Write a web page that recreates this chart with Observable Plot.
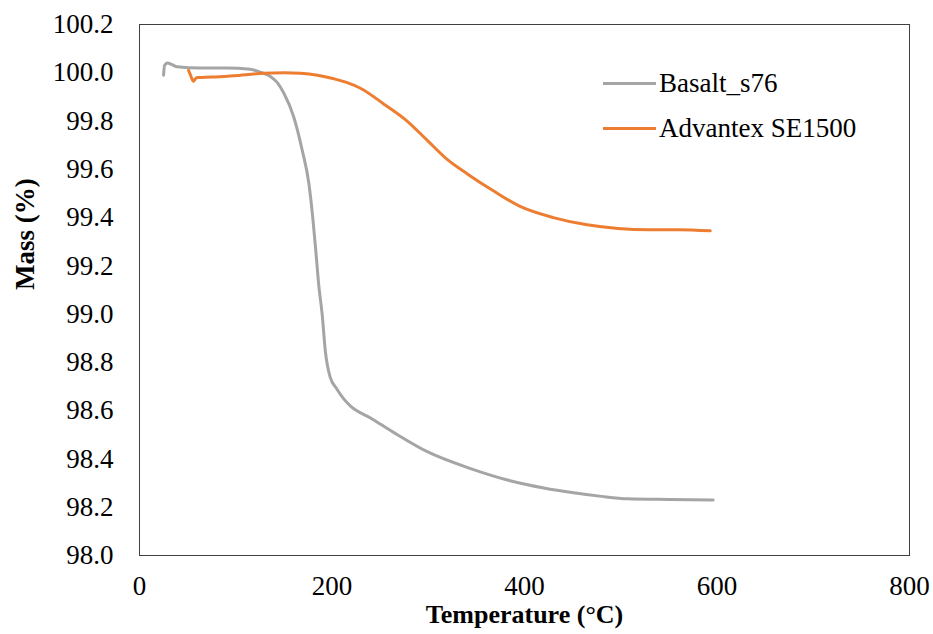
<!DOCTYPE html>
<html>
<head>
<meta charset="utf-8">
<script src="https://cdn.jsdelivr.net/npm/d3@7"></script>
<script src="https://cdn.jsdelivr.net/npm/@observablehq/plot@0.6"></script>
<style>
  html, body { margin: 0; padding: 0; background: #fff; }
  #wrap { position: relative; width: 933px; height: 634px; font-family: "Liberation Serif", "Tinos", "Times New Roman", "DejaVu Serif", serif; }
  #wrap svg, #wrap svg text { font-family: "Liberation Serif", "Tinos", "Times New Roman", "DejaVu Serif", serif !important; }
  .leg { position: absolute; left: 603px; display: flex; align-items: center; font-size: 27px; color: #000; line-height: 1; }
  .leg span.sw { display: inline-block; width: 53px; height: 3px; margin-right: 3px; }
</style>
</head>
<body>
<div id="wrap"></div>
<script>
// Series data
const basaltT = [25, 26, 29, 39, 63, 90, 115, 127, 136, 143, 150, 160, 169, 176, 180, 183, 186, 190, 193, 198, 205, 212, 219, 240, 264, 299, 344, 385, 420, 451, 480, 507, 550, 596];
const basaltM = [99.99, 100.03, 100.04, 100.025, 100.02, 100.02, 100.015, 100.0, 99.985, 99.96, 99.915, 99.82, 99.68, 99.54, 99.40, 99.27, 99.13, 98.99, 98.85, 98.74, 98.69, 98.65, 98.62, 98.57, 98.51, 98.43, 98.36, 98.31, 98.28, 98.26, 98.245, 98.235, 98.232, 98.23];

const advT = [51, 53, 56, 58, 60, 75, 98, 129, 150, 167, 185, 202, 215, 230, 254, 278, 299, 320, 341, 368, 396, 430, 465, 497, 530, 560, 593];
const advM = [100.01, 99.99, 99.965, 99.975, 99.98, 99.982, 99.988, 99.998, 100.0, 99.998, 99.99, 99.975, 99.96, 99.935, 99.87, 99.80, 99.72, 99.64, 99.58, 99.51, 99.445, 99.40, 99.37, 99.355, 99.35, 99.35, 99.345];

const seriesNames = ["Basalt_s76", "Advantex SE1500"];
const seriesColors = ["#A5A5A5", "#ED7D31"];
const xTicks = [0, 200, 400, 600, 800];
const yTicks = [98.0, 98.2, 98.4, 98.6, 98.8, 99.0, 99.2, 99.4, 99.6, 99.8, 100.0, 100.2];
const xLabel = "Temperature (°C)";
const yLabel = "Mass (%)";

const basalt = basaltT.map((t, i) => ({T: t, M: basaltM[i]}));
const adv = advT.map((t, i) => ({T: t, M: advM[i]}));

const chart = Plot.plot({
  width: 933,
  height: 634,
  marginLeft: 139,
  marginRight: 24,
  marginTop: 24,
  marginBottom: 79,
  style: {fontSize: "27px", color: "#000", background: "#fff"},
  x: {domain: [0, 800], ticks: xTicks},
  y: {domain: [98, 100.2], ticks: yTicks},
  marks: [
    Plot.axisX({ticks: xTicks, tickSize: 0, tickPadding: 20, label: null, fontSize: 27, tickFormat: d => String(d)}),
    Plot.axisY({ticks: yTicks, tickSize: 0, tickPadding: 26, label: null, fontSize: 27, tickFormat: d => d.toFixed(1)}),
    Plot.line(basalt, {x: "T", y: "M", stroke: seriesColors[0], strokeWidth: 3, curve: "monotone-x"}),
    Plot.line(adv, {x: "T", y: "M", stroke: seriesColors[1], strokeWidth: 3, curve: "monotone-x"}),
    Plot.frame({stroke: "#404040", strokeWidth: 1}),
    Plot.text([yLabel], {frameAnchor: "left", text: d => d, rotate: -90, dx: -114, fontWeight: "bold", fontSize: 27, fill: "#000"}),
    Plot.text([xLabel], {frameAnchor: "bottom", text: d => d, dy: 67, fontWeight: "bold", fontSize: 26, fill: "#000"})
  ]
});

const wrap = document.getElementById("wrap");
wrap.appendChild(chart);

const legendTops = [83, 128];
seriesNames.forEach((name, i) => {
  const row = document.createElement("div");
  row.className = "leg";
  row.style.top = (legendTops[i] - 14) + "px";
  row.style.height = "28px";
  const sw = document.createElement("span");
  sw.className = "sw";
  sw.style.background = seriesColors[i];
  const tx = document.createElement("span");
  tx.textContent = name;
  row.appendChild(sw);
  row.appendChild(tx);
  wrap.appendChild(row);
});
</script>
</body>
</html>
